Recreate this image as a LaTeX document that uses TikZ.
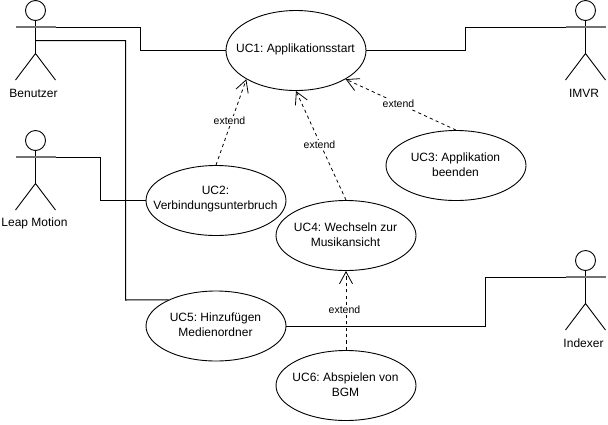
\documentclass[tikz,border=0pt]{standalone}
\usepackage{fontspec}
\setmainfont{Liberation Sans}
\usetikzlibrary{shapes.geometric,arrows.meta}
\frenchspacing
\tikzset{
  x=1pt,y=-1pt,
  every node/.append style={font=\fontsize{12}{15}\selectfont},
  usecase/.style={draw,line width=0.9pt,ellipse,inner sep=0pt,minimum width=140pt,minimum height=70pt},
  uctext/.style={align=center,inner sep=0pt,yshift=1pt,xshift=-0.5pt},
  assoc/.style={draw,line width=1pt},
  extendline/.style={draw,line width=0.8pt,dash pattern=on 3.2pt off 3.2pt,-{Straight Barb[length=12pt,width=13pt,line width=0.8pt]}},
  extendlabel/.style={fill=white,inner sep=1pt,font=\fontsize{10.5}{12}\selectfont},
  actorname/.style={inner sep=0pt},
  actor/.pic={
    \coordinate (-armL) at (-20,16.5);
    \coordinate (-armR) at (20,16.5);
    \coordinate (-mid) at (0,30);
    \draw[line width=0.9pt] (0,0) circle[radius=10];
    \draw[line width=0.9pt] (0,10) -- (0,43) (-20,69.5) -- (0,43) -- (20,69.5);
    \draw[line width=1.2pt,black!55] (-armL) -- (-armR);
  }
}
\begin{document}
\begin{tikzpicture}
\useasboundingbox[fill=white] (0,0) rectangle (608,424);
\pic (ben) at (35.5,10.5) {actor};
\pic (leap) at (35.5,140.5) {actor};
\pic (imvr) at (585.5,10.5) {actor};
\pic (idx) at (585.5,260.5) {actor};
\node[actorname] (benl) at (33.5,93.5) {Benutzer};
\node[actorname] (leapl) at (34.5,223.5) {Leap Motion};
\node[actorname] (imvrl) at (584,93.5) {IMVR};
\node[actorname] (idxl) at (583.5,343.5) {Indexer};

\node[usecase,minimum height=80pt] (uc1) at (296,50.5) {};
\node[usecase] (uc2) at (216,200.5) {};
\node[usecase] (uc3) at (456,165.5) {};
\node[usecase] (uc4) at (346,235.5) {};
\node[usecase] (uc5) at (216,326) {};
\node[usecase] (uc6) at (346,385.5) {};

\node[uctext] (t1) at (uc1) {UC1: Applikationsstart};
\node[uctext] (t2) at (uc2) {UC2:\\Verbindungsunterbruch};
\node[uctext] (t3) at (uc3) {UC3: Applikation\\beenden};
\node[uctext] (t4) at (uc4) {UC4: Wechseln zur\\Musikansicht};
\node[uctext] (t5) at (uc5) {UC5: Hinzufügen\\Medienordner};
\node[uctext] (t6) at (uc6) {UC6: Abspielen von\\BGM};

\draw[assoc] (ben-armR) -| (140.5,50.5) -- (uc1.west);
\draw[assoc] (ben-mid) -| (125.5,300) -- (uc5.151);
\draw[assoc] (leap-armR) -| (100.5,200.5) -- (uc2.west);
\draw[assoc] (uc1.east) -- (465.5,50.5) |- (imvr-armL);
\draw[assoc] (uc5.east) -- (485.5,326) |- (idx-armL);

\draw[extendline] (uc2.north) -- (uc1.210);
\draw[extendline] (uc4.north) -- (uc1.south);
\draw[extendline] (uc3.north) -- (uc1.330);
\draw[extendline] (uc6.north) -- (uc4.south);

\node[extendlabel] (e1) at (229.5,121) {extend};
\node[extendlabel] (e2) at (319.5,145) {extend};
\node[extendlabel] (e3) at (398.5,104) {extend};
\node[extendlabel] (e4) at (344.5,310) {extend};
\end{tikzpicture}
\end{document}
